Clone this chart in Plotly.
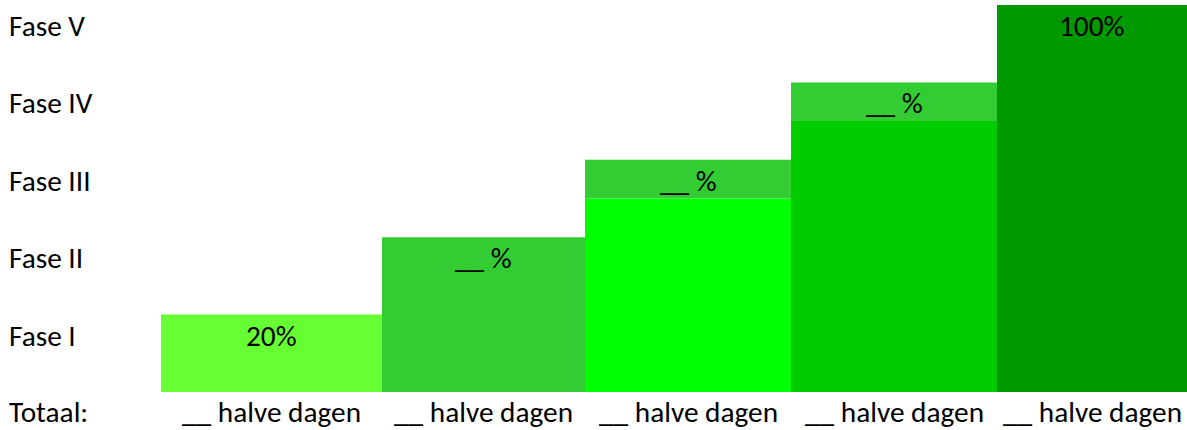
import plotly.graph_objects as go

# ---- data ----
phases = ["Fase I", "Fase II", "Fase III", "Fase IV", "Fase V"]
phase_levels = [20, 40, 60, 80, 100]          # cumulative percentage per phase
pct_labels = ["20%", "__ %", "__ %", "__ %", "100%"]
main_values = [20, 40, 50, 70, 100]           # main segment of each column
band_values = [0, 0, 10, 10, 0]               # lighter top band
total_labels = ["__ halve dagen"] * 5
total_title = "Totaal:"

# ---- layout / style ----
col_edges = [161, 382, 585, 791, 997, 1187]   # pixel columns (x axis = pixels)
main_colors = ["#66FF33", "#33CC33", "#00FF00", "#00CC00", "#009900"]
band_color = "#33CC33"
FONT = "Carlito, Lato, sans-serif"
FS = 29.3

centers = [(a + b) / 2 for a, b in zip(col_edges[:-1], col_edges[1:])]
widths = [b - a for a, b in zip(col_edges[:-1], col_edges[1:])]

fig = go.Figure()
fig.add_trace(go.Bar(x=centers, y=main_values, width=widths,
                     marker=dict(color=main_colors, line=dict(width=0)),
                     hoverinfo="skip"))
fig.add_trace(go.Bar(x=centers, y=band_values, base=main_values, width=widths,
                     marker=dict(color=band_color, line=dict(width=0)),
                     hoverinfo="skip"))

ann = []
for name, lvl in zip(phases, phase_levels):
    ann.append(dict(x=7, y=lvl, xref="x", yref="y", text=name, showarrow=False,
                    xanchor="left", yanchor="middle", yshift=-21,
                    font=dict(family=FONT, size=FS, color="black")))
for c, lvl, t in zip(centers, phase_levels, pct_labels):
    ann.append(dict(x=c, y=lvl, xref="x", yref="y", text=t, showarrow=False,
                    xanchor="center", yanchor="middle", yshift=-21,
                    font=dict(family=FONT, size=FS, color="black")))
ann.append(dict(x=7, y=0, xref="x", yref="y", text=total_title, showarrow=False,
                xanchor="left", yanchor="middle", yshift=-20,
                font=dict(family=FONT, size=FS, color="black")))
for c, t in zip(centers, total_labels):
    ann.append(dict(x=c, y=0, xref="x", yref="y", text=t, showarrow=False,
                    xanchor="center", yanchor="middle", yshift=-20,
                    font=dict(family=FONT, size=FS, color="black")))

fig.update_layout(
    width=1187, height=430,
    margin=dict(l=0, r=0, t=5, b=38),
    paper_bgcolor="white", plot_bgcolor="white",
    barmode="overlay", showlegend=False,
    xaxis=dict(range=[0, 1187], visible=False, fixedrange=True),
    yaxis=dict(range=[0, 100], visible=False, fixedrange=True),
    annotations=ann,
)
fig.write_html("out.html", config={"displayModeBar": False})
